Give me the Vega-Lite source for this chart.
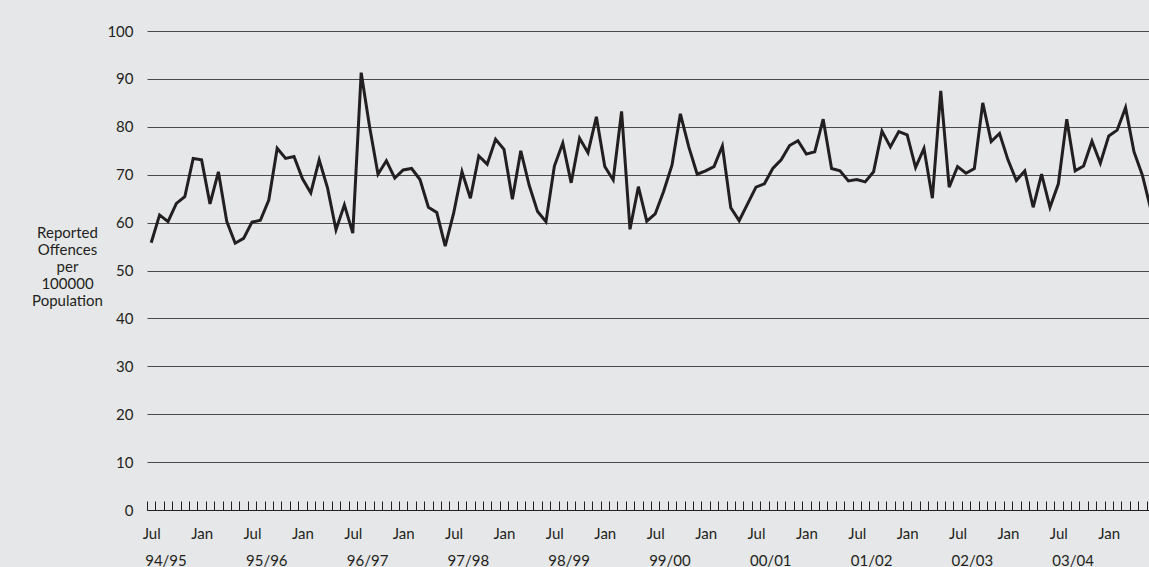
{
  "$schema": "https://vega.github.io/schema/vega-lite/v6.json",
  "autosize": "none",
  "width": 1002,
  "height": 479,
  "padding": {"left": 147, "top": 31, "right": 0, "bottom": 57},
  "background": "#e6e7e8",
  "config": {
    "view": {"stroke": null},
    "font": "Lato",
    "axis": {"labelFont": "Lato", "titleFont": "Lato", "labelColor": "#231f20", "titleColor": "#231f20", "titleFontWeight": "normal"}
  },
  "data": {
    "values": [
      {"i": 0, "v": 55.8}, {"i": 1, "v": 61.6}, {"i": 2, "v": 60.2}, {"i": 3, "v": 64.0}, {"i": 4, "v": 65.4}, {"i": 5, "v": 73.4},
      {"i": 6, "v": 73.1}, {"i": 7, "v": 63.9}, {"i": 8, "v": 70.6}, {"i": 9, "v": 60.2}, {"i": 10, "v": 55.7}, {"i": 11, "v": 56.7},
      {"i": 12, "v": 60.1}, {"i": 13, "v": 60.5}, {"i": 14, "v": 64.7}, {"i": 15, "v": 75.5}, {"i": 16, "v": 73.4}, {"i": 17, "v": 73.8},
      {"i": 18, "v": 69.2}, {"i": 19, "v": 66.2}, {"i": 20, "v": 73.1}, {"i": 21, "v": 67.2}, {"i": 22, "v": 58.5}, {"i": 23, "v": 63.7},
      {"i": 24, "v": 57.8}, {"i": 25, "v": 91.3}, {"i": 26, "v": 80.0}, {"i": 27, "v": 70.1}, {"i": 28, "v": 72.9}, {"i": 29, "v": 69.3},
      {"i": 30, "v": 71.0}, {"i": 31, "v": 71.3}, {"i": 32, "v": 69.0}, {"i": 33, "v": 63.2}, {"i": 34, "v": 62.1}, {"i": 35, "v": 55.1},
      {"i": 36, "v": 61.9}, {"i": 37, "v": 70.6}, {"i": 38, "v": 65.1}, {"i": 39, "v": 73.9}, {"i": 40, "v": 72.2}, {"i": 41, "v": 77.4},
      {"i": 42, "v": 75.3}, {"i": 43, "v": 64.9}, {"i": 44, "v": 75.0}, {"i": 45, "v": 67.8}, {"i": 46, "v": 62.3}, {"i": 47, "v": 60.2},
      {"i": 48, "v": 71.8}, {"i": 49, "v": 76.6}, {"i": 50, "v": 68.3}, {"i": 51, "v": 77.6}, {"i": 52, "v": 74.6}, {"i": 53, "v": 82.1},
      {"i": 54, "v": 71.7}, {"i": 55, "v": 68.9}, {"i": 56, "v": 83.2}, {"i": 57, "v": 58.6}, {"i": 58, "v": 67.5}, {"i": 59, "v": 60.3},
      {"i": 60, "v": 61.8}, {"i": 61, "v": 66.5}, {"i": 62, "v": 72.0}, {"i": 63, "v": 82.7}, {"i": 64, "v": 75.8}, {"i": 65, "v": 70.1},
      {"i": 66, "v": 70.8}, {"i": 67, "v": 71.7}, {"i": 68, "v": 76.0}, {"i": 69, "v": 63.1}, {"i": 70, "v": 60.4}, {"i": 71, "v": 63.9},
      {"i": 72, "v": 67.4}, {"i": 73, "v": 68.1}, {"i": 74, "v": 71.3}, {"i": 75, "v": 73.1}, {"i": 76, "v": 76.1}, {"i": 77, "v": 77.1},
      {"i": 78, "v": 74.3}, {"i": 79, "v": 74.8}, {"i": 80, "v": 81.6}, {"i": 81, "v": 71.3}, {"i": 82, "v": 70.8}, {"i": 83, "v": 68.7},
      {"i": 84, "v": 69.0}, {"i": 85, "v": 68.5}, {"i": 86, "v": 70.6}, {"i": 87, "v": 79.1}, {"i": 88, "v": 75.8}, {"i": 89, "v": 79.0},
      {"i": 90, "v": 78.3}, {"i": 91, "v": 71.5}, {"i": 92, "v": 75.5}, {"i": 93, "v": 65.1}, {"i": 94, "v": 87.5}, {"i": 95, "v": 67.4},
      {"i": 96, "v": 71.7}, {"i": 97, "v": 70.3}, {"i": 98, "v": 71.3}, {"i": 99, "v": 85.0}, {"i": 100, "v": 76.9}, {"i": 101, "v": 78.6},
      {"i": 102, "v": 73.1}, {"i": 103, "v": 68.8}, {"i": 104, "v": 70.8}, {"i": 105, "v": 63.2}, {"i": 106, "v": 70.1}, {"i": 107, "v": 63.2},
      {"i": 108, "v": 68.1}, {"i": 109, "v": 81.6}, {"i": 110, "v": 70.8}, {"i": 111, "v": 71.8}, {"i": 112, "v": 77.0}, {"i": 113, "v": 72.4},
      {"i": 114, "v": 78.1}, {"i": 115, "v": 79.3}, {"i": 116, "v": 84.0}, {"i": 117, "v": 74.8}, {"i": 118, "v": 69.9}, {"i": 119, "v": 62.8}
    ]
  },
  "encoding": {
    "y": {
      "field": "v", "type": "quantitative",
      "scale": {"domain": [0, 100], "nice": false, "zero": true},
      "axis": {
        "values": [0, 10, 20, 30, 40, 50, 60, 70, 80, 90, 100],
        "grid": true, "gridColor": "#4a4a4a", "gridWidth": 1.2, "gridOpacity": 1,
        "domain": false, "ticks": false, "tickSize": 0,
        "labelPadding": 14, "labelFontSize": 15,
        "title": ["Reported", "Offences", "per", "100000", "Population"],
        "titleAngle": 0, "titleAlign": "center", "titleBaseline": "alphabetic",
        "titleX": -80, "titleY": 206, "titleLineHeight": 17, "titleFontSize": 15
      }
    }
  },
  "layer": [
    {
      "mark": {"type": "line", "color": "#231f20", "strokeWidth": 3, "clip": true, "strokeJoin": "miter"},
      "encoding": {
        "x": {
          "field": "i", "type": "quantitative",
          "scale": {"domain": [-0.5, 118.79], "nice": false, "zero": false},
          "axis": {
            "orient": "bottom", "title": null, "labels": false, "grid": false,
            "values": [-0.5, 0.5, 1.5, 2.5, 3.5, 4.5, 5.5, 6.5, 7.5, 8.5, 9.5, 10.5, 11.5, 12.5, 13.5, 14.5, 15.5, 16.5, 17.5, 18.5, 19.5, 20.5, 21.5, 22.5, 23.5, 24.5, 25.5, 26.5, 27.5, 28.5, 29.5, 30.5, 31.5, 32.5, 33.5, 34.5, 35.5, 36.5, 37.5, 38.5, 39.5, 40.5, 41.5, 42.5, 43.5, 44.5, 45.5, 46.5, 47.5, 48.5, 49.5, 50.5, 51.5, 52.5, 53.5, 54.5, 55.5, 56.5, 57.5, 58.5, 59.5, 60.5, 61.5, 62.5, 63.5, 64.5, 65.5, 66.5, 67.5, 68.5, 69.5, 70.5, 71.5, 72.5, 73.5, 74.5, 75.5, 76.5, 77.5, 78.5, 79.5, 80.5, 81.5, 82.5, 83.5, 84.5, 85.5, 86.5, 87.5, 88.5, 89.5, 90.5, 91.5, 92.5, 93.5, 94.5, 95.5, 96.5, 97.5, 98.5, 99.5, 100.5, 101.5, 102.5, 103.5, 104.5, 105.5, 106.5, 107.5, 108.5, 109.5, 110.5, 111.5, 112.5, 113.5, 114.5, 115.5, 116.5, 117.5, 118.5],
            "ticks": true, "tickSize": -9, "tickColor": "#231f20", "tickWidth": 1,
            "domain": true, "domainColor": "#231f20", "domainWidth": 1.2
          }
        }
      }
    },
    {
      "mark": {"type": "line", "strokeOpacity": 0},
      "encoding": {
        "x": {
          "field": "i", "type": "quantitative",
          "axis": {
            "orient": "bottom", "title": null, "grid": false, "domain": false, "ticks": false, "tickSize": 0,
            "values": [0, 6, 12, 18, 24, 30, 36, 42, 48, 54, 60, 66, 72, 78, 84, 90, 96, 102, 108, 114],
            "labelExpr": "datum.value % 12 == 0 ? 'Jul' : 'Jan'",
            "labelFontSize": 15, "labelBaseline": "alphabetic", "labelPadding": 28,
            "labelFlush": false, "labelOverlap": false, "labelBound": false
          }
        }
      }
    },
    {
      "mark": {"type": "line", "strokeOpacity": 0},
      "encoding": {
        "x": {
          "field": "i", "type": "quantitative",
          "axis": {
            "orient": "bottom", "title": null, "grid": false, "domain": false, "ticks": false, "tickSize": 0,
            "values": [1.7, 13.7, 25.7, 37.7, 49.7, 61.7, 73.7, 85.7, 97.7, 109.7],
            "labelExpr": "format((94 + floor(datum.value / 12)) % 100, '02d') + '/' + format((95 + floor(datum.value / 12)) % 100, '02d')",
            "labelFontSize": 15, "labelBaseline": "alphabetic", "labelPadding": 55,
            "labelFlush": false, "labelOverlap": false, "labelBound": false
          }
        }
      }
    }
  ],
  "resolve": {"axis": {"x": "independent"}}
}
